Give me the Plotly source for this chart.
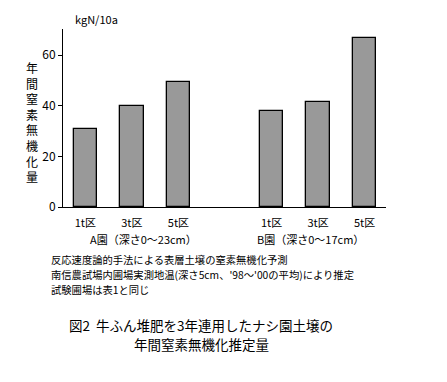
import plotly.graph_objects as go

# Data
sections = ["1t区", "3t区", "5t区"]
garden_labels = ["A園（深さ0～23cm）", "B園（深さ0～17cm）"]
values_A = [31.0, 40.0, 49.5]
values_B = [38.0, 41.6, 66.7]
y_ticks = [0, 20, 40, 60]
unit_label = "kgN/10a"
y_title = "年間窒素無機化量"
notes = [
    "反応速度論的手法による表層土壌の窒素無機化予測",
    "南信農試場内圃場実測地温(深さ5cm、'98～'00の平均)により推定",
    "試験圃場は表1と同じ",
]
title_lines = ["図2  牛ふん堆肥を3年連用したナシ園土壌の", "年間窒素無機化推定量"]

FONT = "Noto Sans CJK JP"

# positions: each group of 3 bars with one empty slot between groups
groups = [values_A, values_B]
xs, ys, labels = [], [], []
for g, vals in enumerate(groups):
    for i, v in enumerate(vals):
        xs.append(g * (len(sections) + 1) + i)
        ys.append(v)
        labels.append(sections[i])

fig = go.Figure()
fig.add_trace(go.Bar(
    x=xs, y=ys, width=0.5,
    marker=dict(color="#999999", line=dict(color="black", width=1.3)),
    showlegend=False, hoverinfo="skip",
))

fig.update_layout(
    width=447, height=382,
    margin=dict(l=63, r=61, t=29, b=175),
    plot_bgcolor="white", paper_bgcolor="white",
    font=dict(family=FONT, size=12, color="black"),
    bargap=0,
)
fig.update_xaxes(
    range=[-0.48, 6.46],
    tickvals=xs, ticktext=labels,
    showline=True, linecolor="black", linewidth=1,
    ticks="", ticklabelstandoff=6,
    showgrid=False, zeroline=False, automargin=False,
    tickfont=dict(size=11),
)
fig.update_yaxes(
    range=[0, 70.3],
    tickvals=y_ticks,
    showline=True, linecolor="black", linewidth=1,
    ticks="outside", ticklen=4, tickcolor="black",
    showgrid=False, zeroline=False, automargin=False,
    tickfont=dict(size=12),
)

PW, PH = 322.7, 178.0

def px_x(p):
    return (p - 63) / PW

def px_y(p):
    return (207.3 - p) / PH

ann = []
# unit label
ann.append(dict(text=unit_label, xref="paper", yref="paper", x=px_x(96), y=px_y(19),
                showarrow=False, font=dict(size=11), xanchor="center", yanchor="middle"))
# vertical y title
ann.append(dict(text="<br>".join(list(y_title)), xref="paper", yref="paper",
                x=px_x(32), y=px_y(122), showarrow=False,
                font=dict(size=12), xanchor="center", yanchor="middle"))
# group labels
grp_centers = [1.25, 4.84]
for lab, cx in zip(garden_labels, grp_centers):
    ann.append(dict(text=lab, xref="x", yref="paper", x=cx, y=px_y(239),
                    showarrow=False, font=dict(size=11), xanchor="center", yanchor="middle"))
# notes
for k, line in enumerate(notes):
    ann.append(dict(text=line, xref="paper", yref="paper", x=px_x(49),
                    y=px_y(260 + 15 * k), showarrow=False, align="left",
                    font=dict(size=10.3), xanchor="left", yanchor="middle"))
# caption title
for k, line in enumerate(title_lines):
    ann.append(dict(text=line, xref="paper", yref="paper", x=px_x(201),
                    y=px_y(325 + 19 * k), showarrow=False, align="center",
                    font=dict(size=13.5), xanchor="center", yanchor="middle"))
fig.update_layout(annotations=ann)

fig.write_html("out.html", config={"displayModeBar": False},
               post_script="document.body.style.margin='0';")
